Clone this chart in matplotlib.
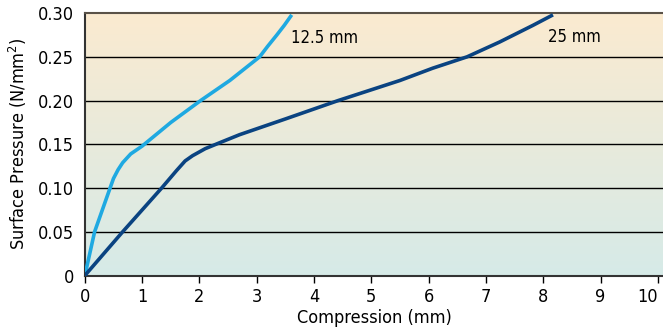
import numpy as np
import matplotlib
matplotlib.use('Agg')
import matplotlib.pyplot as plt
from matplotlib.colors import LinearSegmentedColormap

plt.rcParams['font.family'] = ['DejaVu Sans']
plt.rcParams['font.stretch'] = 'condensed'

# 12.5 mm curve
x_125 = [0, 0.17, 0.44, 0.5, 0.58, 0.66, 0.8, 1.0, 1.5, 2.02, 2.53, 3.05, 3.19, 3.35, 3.48, 3.61]
y_125 = [0, 0.05, 0.10, 0.111, 0.121, 0.129, 0.139, 0.148, 0.175, 0.20, 0.223, 0.25, 0.262, 0.275, 0.286, 0.298]

# 25 mm curve
x_25 = [0, 0.66, 1.34, 1.6, 1.75, 1.88, 2.1, 2.36, 2.7, 3.5, 4.42, 5.5, 6.07, 6.67, 7.24, 7.82, 8.17]
y_25 = [0, 0.05, 0.10, 0.12, 0.131, 0.137, 0.145, 0.152, 0.161, 0.179, 0.20, 0.223, 0.237, 0.25, 0.267, 0.286, 0.298]

xticks = list(range(0, 11))
yticks = [0, 0.05, 0.10, 0.15, 0.20, 0.25, 0.30]
ylabels = ['0', '0.05', '0.10', '0.15', '0.20', '0.25', '0.30']

fig = plt.figure(figsize=(6.63, 3.36), dpi=100)
ax = fig.add_axes([0.128, 0.18, 0.872, 0.781])

xmax = 10.09
# background gradient: peach at top, pale teal at bottom
cmap = LinearSegmentedColormap.from_list('bg', ['#d6ebe8', '#e8eadc', '#fbebd0'])
grad = np.linspace(0, 1, 256).reshape(-1, 1)
ax.imshow(grad, cmap=cmap, origin='lower', aspect='auto',
          extent=[0, xmax, 0, 0.30], zorder=0)

for yv in yticks[1:-1]:
    ax.axhline(yv, color='black', lw=1.0, zorder=1)

ax.plot(x_125, y_125, color='#1fa9e1', lw=2.6, solid_capstyle='butt',
        solid_joinstyle='round', zorder=3)
ax.plot(x_25, y_25, color='#0a4381', lw=2.6, solid_capstyle='butt',
        solid_joinstyle='round', zorder=3)

ax.text(3.6, 0.272, '12.5 mm', fontsize=12, va='center', ha='left')
ax.text(8.08, 0.273, '25 mm', fontsize=12, va='center', ha='left')

ax.set_xlim(0, xmax)
ax.set_ylim(0, 0.30)
ax.set_xticks(xticks)
ax.set_yticks(yticks)
ax.set_yticklabels(ylabels)
ax.tick_params(axis='x', length=5, width=1, direction='out', labelsize=13, pad=4)
ax.tick_params(axis='y', length=0, labelsize=13, pad=8)
# keep the last label inside the figure
ax.get_xticklabels()[-1].set_ha('right')

ax.spines['right'].set_visible(False)
for s in ['left', 'bottom']:
    ax.spines[s].set_color('#333333')
    ax.spines[s].set_linewidth(1.5)
ax.spines['top'].set_color('#5a5248')
ax.spines['top'].set_linewidth(1.5)

ax.set_xlabel('Compression (mm)', fontsize=13, labelpad=2)
ax.set_ylabel('Surface Pressure (N/mm$^2$)', fontsize=13, labelpad=6)

fig.savefig('out.png', dpi=100)
